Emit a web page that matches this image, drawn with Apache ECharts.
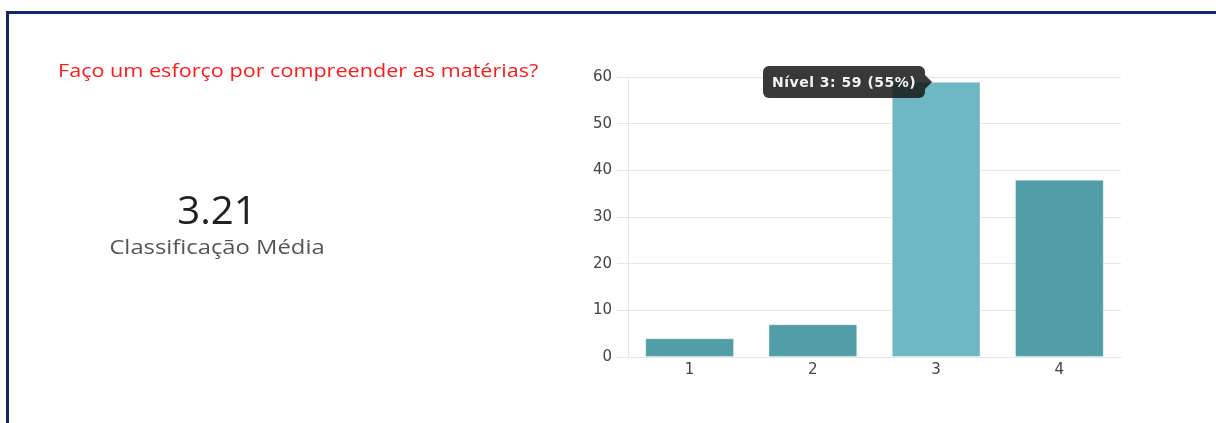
<!DOCTYPE html>
<html>
<head>
<meta charset="utf-8">
<script src="https://cdn.jsdelivr.net/npm/echarts@6/dist/echarts.min.js"></script>
<style>
  html, body { margin: 0; padding: 0; background: #fff; }
  #frame { position: absolute; left: 6px; top: 11px; width: 1230px; height: 430px; border: 3px solid #10286a; box-sizing: border-box; }
  #chart { position: absolute; left: 0; top: 0; width: 1216px; height: 423px; }
</style>
</head>
<body>
<div id="frame"></div>
<div id="chart"></div>
<script>
const questionTitle = 'Faço um esforço por compreender as matérias?';
const averageLabel = 'Classificação Média';
const categories = ['1', '2', '3', '4'];
const counts = [4, 7, 59, 38];
const yTicks = [0, 10, 20, 30, 40, 50, 60];
const highlightedIndex = 2;

const total = counts.reduce((a, b) => a + b, 0);
const mean = counts.reduce((s, v, i) => s + v * Number(categories[i]), 0) / total;

const chart = echarts.init(document.getElementById('chart'), null, { renderer: 'canvas' });
const FONT = '"Open Sans", "Noto Sans", sans-serif';
const AXFONT = '"DejaVu Sans", "Open Sans", sans-serif';

chart.setOption({
  animation: false,
  grid: { left: 628, right: 95, top: 77, bottom: 66, containLabel: false },
  xAxis: {
    type: 'category',
    data: categories,
    axisLine: { show: true, lineStyle: { color: '#e6e6e6', width: 1 } },
    axisTick: { show: false },
    axisLabel: { color: '#444', fontSize: 15, fontFamily: AXFONT, margin: 6 }
  },
  yAxis: {
    type: 'value',
    min: yTicks[0],
    max: yTicks[yTicks.length - 1],
    interval: yTicks[1] - yTicks[0],
    axisLine: { show: true, lineStyle: { color: '#e6e6e6', width: 1 } },
    axisTick: { show: true, length: 11, lineStyle: { color: '#e6e6e6' } },
    splitLine: { show: true, lineStyle: { color: '#e6e6e6', width: 1 } },
    axisLabel: { color: '#444', fontSize: 15, fontFamily: AXFONT, margin: 16 }
  },
  tooltip: {
    trigger: 'item',
    alwaysShowContent: true,
    transitionDuration: 0,
    backgroundColor: 'rgba(24,24,24,0.86)',
    borderWidth: 0,
    padding: [7, 9],
    extraCssText: 'border-radius:6px;box-shadow:none;line-height:18px;letter-spacing:0.5px;',
    textStyle: { color: '#f2f2f2', fontSize: 14, fontWeight: 'bold', fontFamily: '"DejaVu Sans", sans-serif' },
    formatter: function (p) {
      const pct = Math.round(p.value / total * 100);
      return 'Nível ' + p.name + ': ' + p.value + ' (' + pct + '%)' +
        '<span style="position:absolute;right:-7px;top:50%;margin-top:-7px;width:0;height:0;' +
        'border-left:7px solid rgba(24,24,24,0.86);border-top:7px solid transparent;border-bottom:7px solid transparent;"></span>';
    },
    position: function (point, params, dom, rect, size) {
      const top = chart.convertToPixel({ seriesIndex: 0 }, [params.dataIndex, params.value]);
      return [top[0] - 11 - size.contentSize[0], top[1] - 16];
    }
  },
  graphic: [
    { type: 'text', x: 58, y: 72, scaleX: 1.2, silent: true,
      style: { text: questionTitle, fill: '#ff1a1a', font: '18px ' + FONT, align: 'left', verticalAlign: 'middle' } },
    { type: 'text', x: 217, y: 213, scaleX: 1.03, silent: true,
      style: { text: mean.toFixed(2), fill: '#222', font: '39px ' + FONT, align: 'center', verticalAlign: 'middle' } },
    { type: 'text', x: 217, y: 248, scaleX: 1.19, silent: true,
      style: { text: averageLabel, fill: '#555', font: '20px ' + FONT, align: 'center', verticalAlign: 'middle' } }
  ],
  series: [{
    type: 'bar',
    barCategoryGap: '28%',
    data: counts.map((v, i) => ({
      value: v,
      itemStyle: { color: i === highlightedIndex ? '#6db8c4' : '#519ea9' }
    })),
    itemStyle: { borderColor: 'rgba(255,255,255,0.35)', borderWidth: 1 },
    emphasis: { disabled: true }
  }]
});

chart.dispatchAction({ type: 'showTip', seriesIndex: 0, dataIndex: highlightedIndex });
</script>
</body>
</html>
